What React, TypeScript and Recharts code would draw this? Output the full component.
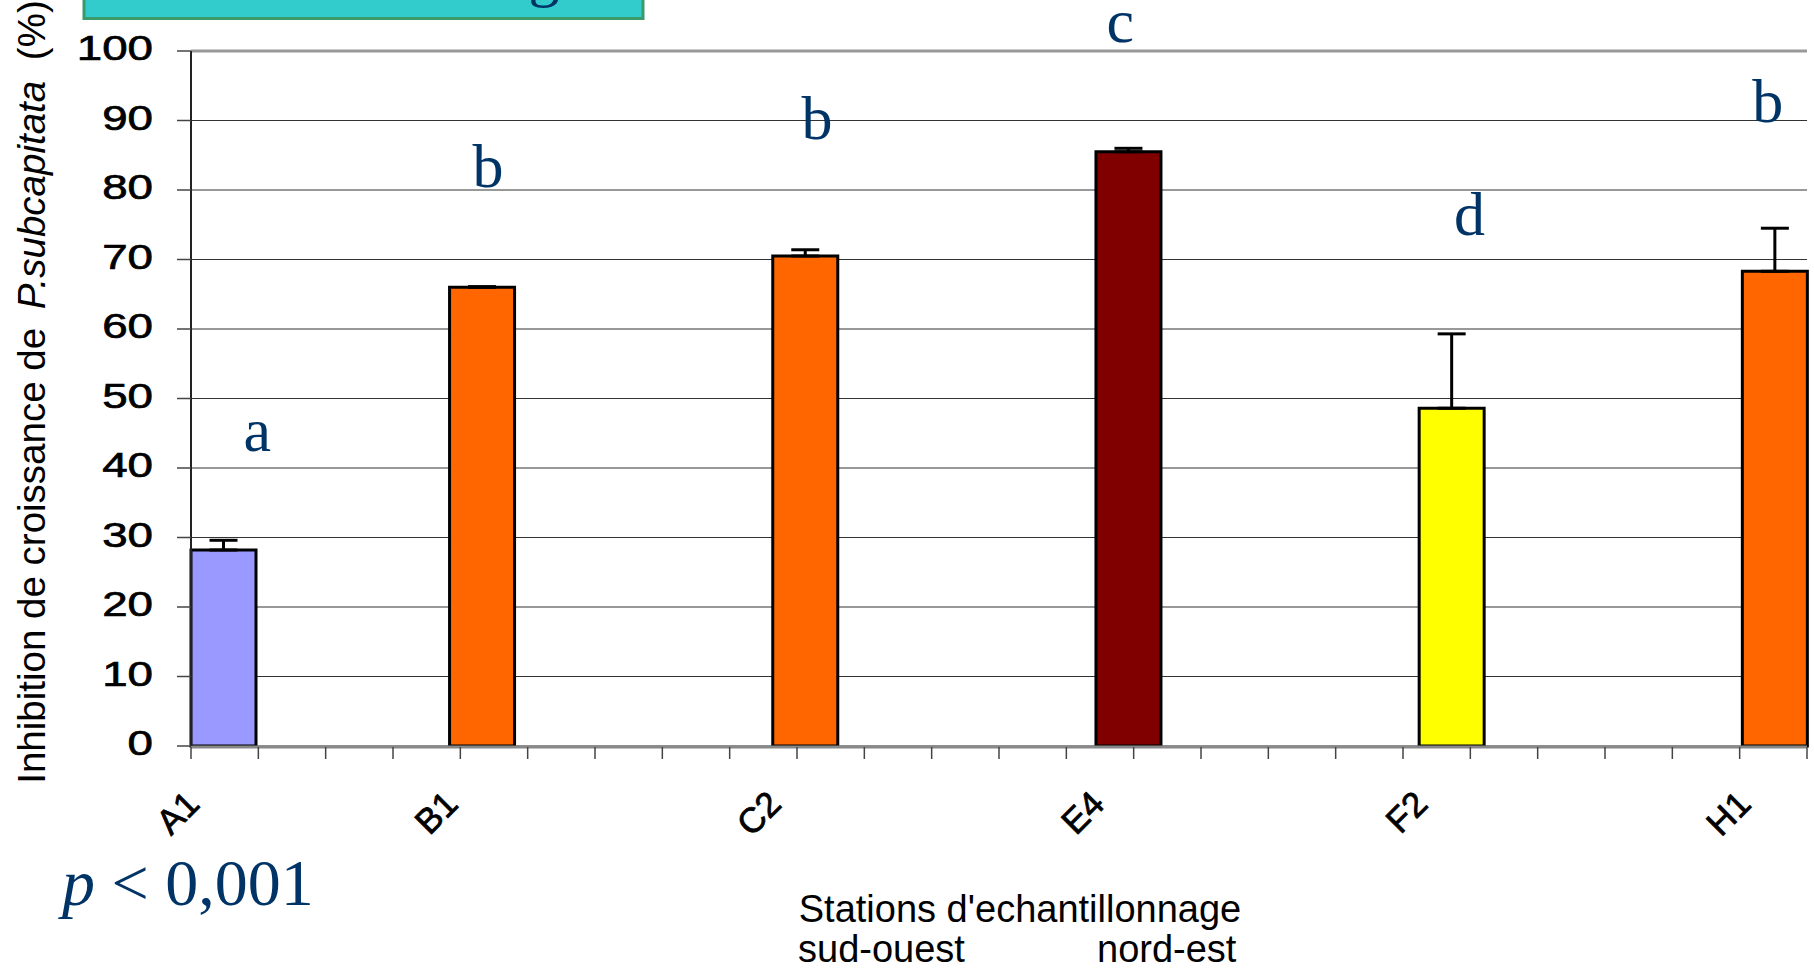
import React from 'react'
import {
  ComposedChart,
  Bar,
  Cell,
  XAxis,
  YAxis,
  CartesianGrid,
  ErrorBar,
  ReferenceDot,
  ReferenceLine,
} from 'recharts'

// stations along the transect, placed on a 25-slot category axis
const stations = ['A1', 'B1', 'C2', 'E4', 'F2', 'H1']
const stationSlots = [0, 4, 9, 14, 19, 24]
const inhibition = [28.2, 66.0, 70.5, 85.5, 48.6, 68.3]
const errorUp = [1.4, 0.1, 0.9, 0.5, 10.7, 6.2]
const groupLetters = ['a', 'b', 'b', 'c', 'd', 'b']
const letterLevel = [45.6, 83.6, 90.5, 104.4, 76.7, 92.9]
const barColors = ['#9999FF', '#FF6600', '#FF6600', '#800000', '#FFFF00', '#FF6600']
const yTicks = [0, 10, 20, 30, 40, 50, 60, 70, 80, 90, 100]
const slotEdges = [0, 1, 2, 3, 4, 5, 6, 7, 8, 9, 10, 11, 12, 13, 14, 15, 16, 17, 18, 19, 20, 21, 22, 23, 24, 25]
const SLOT_COUNT = 25

const SANS = '"Liberation Sans", Arial, sans-serif'
const SERIF = '"Liberation Serif", "Times New Roman", serif'
const NAVY = '#003366'

const W = 1814
const H = 969

// letters are not centred exactly over their bars in the original
const letterDx = [34, 6, 12, -8, 18, -7]

const rows = Array.from({ length: SLOT_COUNT }, (_, i) => {
  const k = stationSlots.indexOf(i)
  if (k < 0) return { slot: `gap${i}`, k: -1 }
  return { slot: stations[k], k, value: inhibition[k], err: [0, errorUp[k]] }
})

// digits in the original are stretched sideways
const YTick = ({ x, y, payload }: any) => (
  <text
    transform={`translate(${x},${y + 9}) scale(1.27,1)`}
    textAnchor="end"
    fill="#000"
    stroke="#000"
    strokeWidth={0.7}
    style={{ fontSize: 36, fontFamily: SANS }}
  >
    {payload.value}
  </text>
)

const StationTick = ({ x, y, payload }: any) => {
  if (!stations.includes(payload.value)) return <g />
  return (
    <text
      transform={`translate(${x - 22},${y + 60}) rotate(-45)`}
      textAnchor="end"
      fill="#000"
      stroke="#000"
      strokeWidth={0.8}
      style={{ fontSize: 35, fontFamily: SANS }}
    >
      {payload.value}
    </text>
  )
}

const YTitle = () => (
  <text
    transform="translate(31,392) rotate(-90)"
    textAnchor="middle"
    dominantBaseline="central"
    fontSize={38.5}
    fontFamily={SANS}
    fill="#000"
  >
    Inhibition de croissance de <tspan fontStyle="italic" dx={8}>P.subcapitata</tspan>
    <tspan dx={10}> (%)</tspan>
  </text>
)

const XTitle = () => (
  <g fontFamily={SANS} fontSize={38} fill="#000">
    <text x={1020} y={922} textAnchor="middle">Stations d'echantillonnage</text>
    <text x={798} y={962}>sud-ouest</text>
    <text x={1097} y={962}>nord-est</text>
  </g>
)

export default function App() {
  return (
    <div style={{ position: 'absolute', left: 0, top: 0, width: W, height: H, background: '#fff' }}>
      <ComposedChart
        width={W}
        height={H}
        data={rows}
        margin={{ top: 51, right: 7, bottom: 221, left: 91 }}
        barCategoryGap={0}
        barGap={0}
      >
        <CartesianGrid vertical={false} stroke="#333" strokeWidth={1} xAxisId="num" />
        <XAxis
          xAxisId="cat"
          dataKey="slot"
          interval={0}
          tick={<StationTick />}
          tickLine={false}
          axisLine={false}
          tickSize={0}
          tickMargin={0}
          height={1}
          label={{ content: () => <XTitle /> }}
        />
        <XAxis
          xAxisId="num"
          type="number"
          domain={[0, SLOT_COUNT]}
          ticks={slotEdges}
          interval={0}
          tick={() => <g />}
          tickSize={12}
          tickLine={{ stroke: '#444', strokeWidth: 1.5 }}
          axisLine={{ stroke: '#888', strokeWidth: 3 }}
          height={1}
        />
        <YAxis
          domain={[0, 100]}
          ticks={yTicks}
          interval={0}
          width={100}
          tickSize={14}
          tickMargin={24}
          tick={<YTick />}
          tickLine={{ stroke: '#444', strokeWidth: 1.5 }}
          axisLine={{ stroke: '#222', strokeWidth: 2 }}
          label={{ content: () => <YTitle /> }}
        />
        <ReferenceLine xAxisId="num" y={100} stroke="#999" strokeWidth={3} />
        <ReferenceLine xAxisId="num" x={SLOT_COUNT} stroke="#999" strokeWidth={3} />
        <Bar xAxisId="cat" dataKey="value" stroke="#000" strokeWidth={3} isAnimationActive={false}>
          {rows.map((r, i) => (
            <Cell key={i} fill={r.k >= 0 ? barColors[r.k] : 'none'} />
          ))}
          <ErrorBar dataKey="err" direction="y" width={14} stroke="#000" strokeWidth={3} />
        </Bar>
        {stations.map((s, k) => (
          <ReferenceDot
            key={s}
            xAxisId="cat"
            x={s}
            y={letterLevel[k]}
            r={0}
            fill="none"
            stroke="none"
            ifOverflow="visible"
            label={{
              value: groupLetters[k],
              position: 'center',
              dx: letterDx[k],
              fill: NAVY,
              fontSize: 62,
              fontFamily: SERIF,
            }}
          />
        ))}
      </ComposedChart>
      <svg
        width={W}
        height={H}
        style={{ position: 'absolute', left: 0, top: 0, pointerEvents: 'none' }}
      >
        <rect x={84} y={-20} width={559} height={38.5} fill="#33CCCC" stroke="#3A9A6A" strokeWidth={3} />
        <text x={544} y={-5} textAnchor="middle" fontSize={62} fontFamily={SERIF} fill={NAVY}>g</text>
        <text x={62} y={905} fontSize={66} fontFamily={SERIF} fill={NAVY}>
          <tspan fontStyle="italic">p</tspan> &lt; 0,001
        </text>
      </svg>
    </div>
  )
}
